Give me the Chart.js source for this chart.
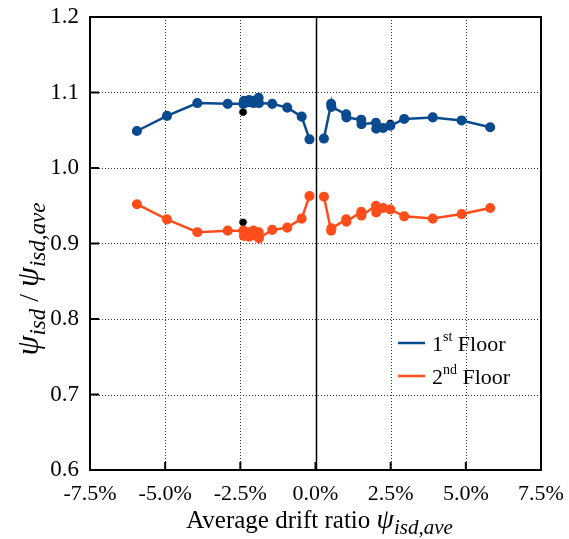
<!DOCTYPE html>
<html>
<head>
<meta charset="utf-8">
<script src="https://cdn.jsdelivr.net/npm/chart.js@4/dist/chart.umd.min.js"></script>
<style>
  html, body { margin: 0; padding: 0; background: #fff; }
  #wrap { width: 569px; height: 539px; }
</style>
</head>
<body>
<div id="wrap"><canvas id="driftChart"></canvas></div>
<script>
// drift ratio (%) on the negative and positive sides
const driftNeg = [-5.94, -4.94, -3.93, -2.92, -2.40, -2.38, -2.23, -2.21, -2.06, -2.05, -1.89, -1.88, -1.44, -0.94, -0.46, -0.20];
const driftPos = [0.28, 0.52, 0.53, 1.02, 1.03, 1.52, 1.53, 2.01, 2.02, 2.25, 2.49, 2.95, 3.90, 4.86, 5.81];

// psi_isd / psi_isd,ave
const floor1Neg = [1.049, 1.069, 1.086, 1.085, 1.085, 1.089, 1.087, 1.090, 1.086, 1.089, 1.093, 1.086, 1.085, 1.080, 1.068, 1.038];
const floor1Pos = [1.039, 1.085, 1.081, 1.071, 1.067, 1.064, 1.058, 1.060, 1.052, 1.053, 1.056, 1.065, 1.067, 1.063, 1.054];
const floor2Neg = [0.952, 0.932, 0.915, 0.917, 0.917, 0.910, 0.915, 0.909, 0.917, 0.911, 0.915, 0.907, 0.918, 0.921, 0.933, 0.963];
const floor2Pos = [0.962, 0.917, 0.920, 0.932, 0.929, 0.942, 0.937, 0.950, 0.941, 0.947, 0.945, 0.936, 0.933, 0.939, 0.947];

// black marked points
const markDrift = [-2.41, -2.41, 2.49, 2.47];
const markRatio = [1.074, 0.928, 1.059, 0.945];

// axis ticks
const xTicks = [-7.5, -5.0, -2.5, 0.0, 2.5, 5.0, 7.5];
const yTicks = [0.6, 0.7, 0.8, 0.9, 1.0, 1.1, 1.2];

const SERIF = '"Liberation Serif", "Times New Roman", serif';
Chart.defaults.font.family = SERIF;

function branch(xs, ys) {
    return xs.map((x, i) => ({ x: x, y: ys[i] }));
}

function floorData(neg, pos) {
    // null point keeps the two branches apart across zero
    return branch(driftNeg, neg).concat([{ x: 0, y: null }], branch(driftPos, pos));
}

// draws a run of text pieces: [text, italic, size, baseline shift]
function drawRuns(ctx, runs, x, y, align) {
    const pieces = runs.map(r => {
        const font = (r[1] ? 'italic ' : '') + r[2] + 'px ' + SERIF;
        ctx.font = font;
        return { text: r[0], font: font, w: ctx.measureText(r[0]).width, dy: r[3] || 0 };
    });
    const total = pieces.reduce((a, p) => a + p.w, 0);
    let cx = align === 'center' ? x - total / 2 : x;
    ctx.textBaseline = 'alphabetic';
    ctx.textAlign = 'left';
    pieces.forEach(p => {
        ctx.font = p.font;
        ctx.fillText(p.text, cx, y + p.dy);
        cx += p.w;
    });
}

const framePlugin = {
    id: 'frame',
    beforeDatasetsDraw(chart) {
        const ctx = chart.ctx;
        const a = chart.chartArea;
        const xs = chart.scales.x, ys = chart.scales.y;
        ctx.save();
        // dotted grid
        ctx.strokeStyle = '#333';
        ctx.lineWidth = 1;
        ctx.setLineDash([1, 2]);
        xTicks.slice(1, -1).forEach(v => {
            if (v === 0) return;
            const px = Math.round(xs.getPixelForValue(v)) + 0.5;
            ctx.beginPath(); ctx.moveTo(px, a.top); ctx.lineTo(px, a.bottom); ctx.stroke();
        });
        yTicks.slice(1, -1).forEach(v => {
            const py = Math.round(ys.getPixelForValue(v)) + 0.5;
            ctx.beginPath(); ctx.moveTo(a.left, py); ctx.lineTo(a.right, py); ctx.stroke();
        });
        ctx.setLineDash([]);
        // zero line
        const zx = Math.round(xs.getPixelForValue(0)) + 0.5;
        ctx.strokeStyle = '#000';
        ctx.lineWidth = 1.5;
        ctx.beginPath(); ctx.moveTo(zx, a.top); ctx.lineTo(zx, a.bottom); ctx.stroke();
        // inward tick marks
        ctx.lineWidth = 2;
        xTicks.forEach(v => {
            const px = xs.getPixelForValue(v);
            ctx.beginPath(); ctx.moveTo(px, a.bottom); ctx.lineTo(px, a.bottom - 8); ctx.stroke();
        });
        yTicks.forEach(v => {
            const py = ys.getPixelForValue(v);
            ctx.beginPath(); ctx.moveTo(a.left, py); ctx.lineTo(a.left + 9, py); ctx.stroke();
        });
        // box
        ctx.lineWidth = 2;
        ctx.strokeRect(a.left, a.top, a.right - a.left, a.bottom - a.top);

        // tick labels
        ctx.fillStyle = '#000';
        ctx.font = '22px ' + SERIF;
        ctx.textAlign = 'center';
        ctx.textBaseline = 'alphabetic';
        xTicks.forEach(v => {
            ctx.fillText(v.toFixed(1) + '%', xs.getPixelForValue(v), a.bottom + 30);
        });
        ctx.font = '23px ' + SERIF;
        ctx.textAlign = 'right';
        ctx.textBaseline = 'middle';
        yTicks.forEach(v => {
            ctx.fillText(v.toFixed(1), a.left - 11, ys.getPixelForValue(v));
        });
        ctx.restore();
    },
    afterDraw(chart) {
        const ctx = chart.ctx;
        const a = chart.chartArea;
        ctx.save();
        ctx.fillStyle = '#000';
        // x title
        drawRuns(ctx, [['Average drift ratio ', false, 25], ['\u03C8', true, 28], ['isd,ave', true, 21, 6]],
            (a.left + a.right) / 2 + 4, 528, 'center');
        // y title
        ctx.translate(38, 279);
        ctx.rotate(-Math.PI / 2);
        drawRuns(ctx, [['\u03C8', true, 32], ['isd', true, 23, 7], [' / ', false, 28],
            ['\u03C8', true, 32], ['isd,ave', true, 23, 7]], 0, 0, 'center');
        ctx.restore();

        // legend
        ctx.save();
        const items = chart.data.datasets.filter(d => d.legendText);
        items.forEach((d, i) => {
            const y = a.top + 326 + i * 33;
            ctx.strokeStyle = d.borderColor;
            ctx.lineWidth = 2.5;
            ctx.beginPath(); ctx.moveTo(a.right - 143, y); ctx.lineTo(a.right - 116, y); ctx.stroke();
            ctx.fillStyle = '#000';
            ctx.textAlign = 'left';
            ctx.textBaseline = 'alphabetic';
            let x = a.right - 109;
            ctx.font = '22px ' + SERIF;
            ctx.fillText(d.legendText[0], x, y + 8);
            x += ctx.measureText(d.legendText[0]).width;
            ctx.font = '14px ' + SERIF;
            ctx.fillText(d.legendText[1], x, y - 2);
            x += ctx.measureText(d.legendText[1]).width;
            ctx.font = '22px ' + SERIF;
            ctx.fillText(d.legendText[2], x, y + 8);
        });
        ctx.restore();
    }
};

const blue = '#0a4a8e';
const orange = '#ff4d1c';

new Chart(document.getElementById('driftChart'), {
    type: 'scatter',
    data: {
        datasets: [{
            label: '1st Floor',
            legendText: ['1', 'st', ' Floor'],
            data: floorData(floor1Neg, floor1Pos),
            showLine: true,
            spanGaps: false,
            borderColor: blue,
            backgroundColor: blue,
            borderWidth: 2.5,
            pointRadius: 3.8,
            pointHoverRadius: 3.8
        }, {
            label: '2nd Floor',
            legendText: ['2', 'nd', ' Floor'],
            data: floorData(floor2Neg, floor2Pos),
            showLine: true,
            spanGaps: false,
            borderColor: orange,
            backgroundColor: orange,
            borderWidth: 2.5,
            pointRadius: 3.8,
            pointHoverRadius: 3.8
        }, {
            label: 'marked',
            data: branch(markDrift, markRatio),
            showLine: false,
            borderColor: '#fff',
            backgroundColor: '#000',
            borderWidth: 0.8,
            pointRadius: 4.2
        }]
    },
    options: {
        responsive: true,
        maintainAspectRatio: false,
        animation: false,
        layout: { padding: { top: 17, right: 28, left: 0, bottom: 0 } },
        plugins: {
            legend: { display: false },
            tooltip: { enabled: false }
        },
        scales: {
            x: {
                type: 'linear',
                min: -7.5,
                max: 7.5,
                afterFit: s => { s.height = 69; },
                grid: { display: false, drawTicks: false },
                border: { display: false },
                ticks: { display: false }
            },
            y: {
                type: 'linear',
                min: 0.6,
                max: 1.2,
                afterFit: s => { s.width = 90; },
                grid: { display: false, drawTicks: false },
                border: { display: false },
                ticks: { display: false }
            }
        }
    },
    plugins: [framePlugin]
});
</script>
</body>
</html>
